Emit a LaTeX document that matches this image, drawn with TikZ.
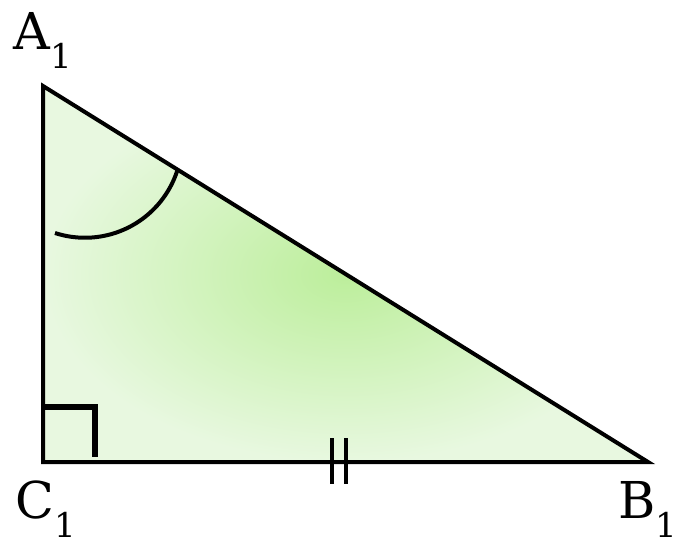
\documentclass[tikz,border=0pt]{standalone}
\usepackage{fontspec}
\setmainfont{DejaVu Serif}
\definecolor{gin}{RGB}{188,238,155}
\definecolor{gout}{RGB}{232,248,224}
\newcommand{\vlab}[1]{#1\raisebox{-9.5pt}{\fontsize{17}{20}\selectfont 1}}
\begin{document}
\begin{tikzpicture}[x=0.5pt,y=0.5pt,lab/.style={inner sep=0pt,anchor=base west,font=\fontsize{25.4}{30}\selectfont}]
\useasboundingbox (0,0) rectangle (683,548);
\coordinate (A) at (43,462);\coordinate (C) at (43,86);\coordinate (B) at (648,86);
\shade[inner color=gin,outer color=gout] (A)--(B)--(C)--cycle;
\draw[line width=2pt] (A)--(B)--(C)--cycle;
\draw[line width=2.6pt] (43,141)--(95,141)--(95,91);
\draw[line width=2pt] (332,110)--(332,64);\draw[line width=2pt] (346,110)--(346,64);
\draw[line width=2pt] (55,315) arc[start angle=252,end angle=343,radius=97];
\node[lab] (la) at (13,499) {\vlab{A}};
\node[lab] (lc) at (15,30) {\vlab{C}};
\node[lab] (lb) at (618,30) {\vlab{B}};
\end{tikzpicture}
\end{document}
